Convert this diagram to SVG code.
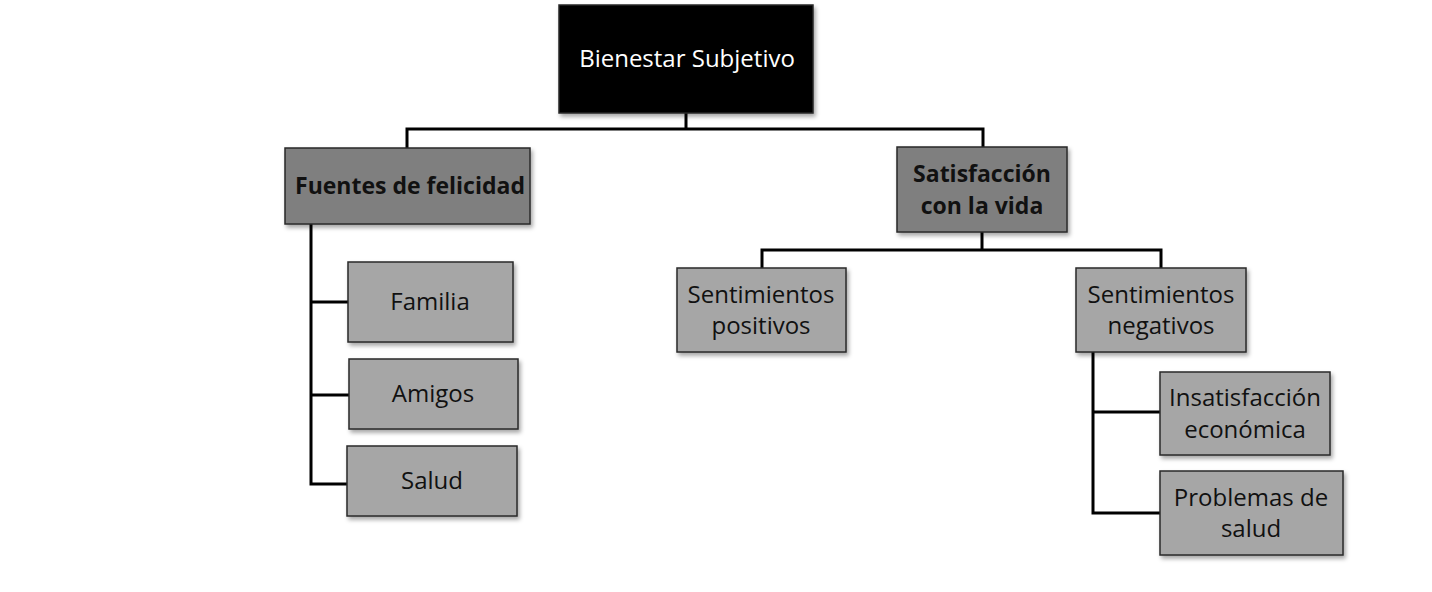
<svg xmlns="http://www.w3.org/2000/svg" width="1432" height="592" viewBox="0 0 1432 592">
<style>
.box{stroke:#2a2a2a;stroke-width:1.5;filter:url(#sh)}
.l1{fill:#7f7f7f}
.l2{fill:#a6a6a6}
.t{font-family:"Open Sans","Liberation Sans",sans-serif;font-size:24px;fill:#111;text-anchor:middle}
.b{font-weight:bold;font-size:23px}
.w{fill:#fff}
.c{fill:none;stroke:#000;stroke-width:3}
</style>
<defs>
<filter id="sh" x="-10%" y="-10%" width="125%" height="130%">
<feDropShadow dx="2" dy="3" stdDeviation="2" flood-color="#000" flood-opacity="0.35"/>
</filter>
</defs>
<rect width="1432" height="592" fill="#fff"/>
<g id="connectors">
<path class="c" d="M686 113V129M407 148V129H983V148"/>
<path class="c" d="M311 224V484H347M311 302H348M311 395H349"/>
<path class="c" d="M982 232V250M762 268V250H1161V268"/>
<path class="c" d="M1093 352V513H1160M1093 412H1160"/>
</g>
<g id="root"><rect class="box" x="559" y="5" width="254" height="108" fill="#000"/><text class="t w" x="687" y="67">Bienestar Subjetivo</text></g>
<g id="fuentes"><rect class="box l1" x="285" y="148" width="245" height="76"/><text class="t b" x="410" y="194">Fuentes de felicidad</text></g>
<g id="satisfaccion"><rect class="box l1" x="897" y="147" width="170" height="85"/><text class="t b" x="982" y="182">Satisfacción</text><text class="t b" x="982" y="214">con la vida</text></g>
<g id="familia"><rect class="box l2" x="348" y="262" width="165" height="80"/><text class="t" x="430" y="310">Familia</text></g>
<g id="amigos"><rect class="box l2" x="349" y="359" width="169" height="70"/><text class="t" x="433" y="402">Amigos</text></g>
<g id="salud"><rect class="box l2" x="347" y="446" width="170" height="70"/><text class="t" x="432" y="489">Salud</text></g>
<g id="positivos"><rect class="box l2" x="677" y="268" width="169" height="84"/><text class="t" x="761" y="303">Sentimientos</text><text class="t" x="761" y="334">positivos</text></g>
<g id="negativos"><rect class="box l2" x="1076" y="268" width="170" height="84"/><text class="t" x="1161" y="303">Sentimientos</text><text class="t" x="1161" y="334">negativos</text></g>
<g id="insatisfaccion"><rect class="box l2" x="1160" y="372" width="170" height="83"/><text class="t" x="1245" y="406">Insatisfacción</text><text class="t" x="1245" y="438">económica</text></g>
<g id="problemas"><rect class="box l2" x="1160" y="471" width="183" height="84"/><text class="t" x="1251" y="506">Problemas de</text><text class="t" x="1251" y="537">salud</text></g>
</svg>
